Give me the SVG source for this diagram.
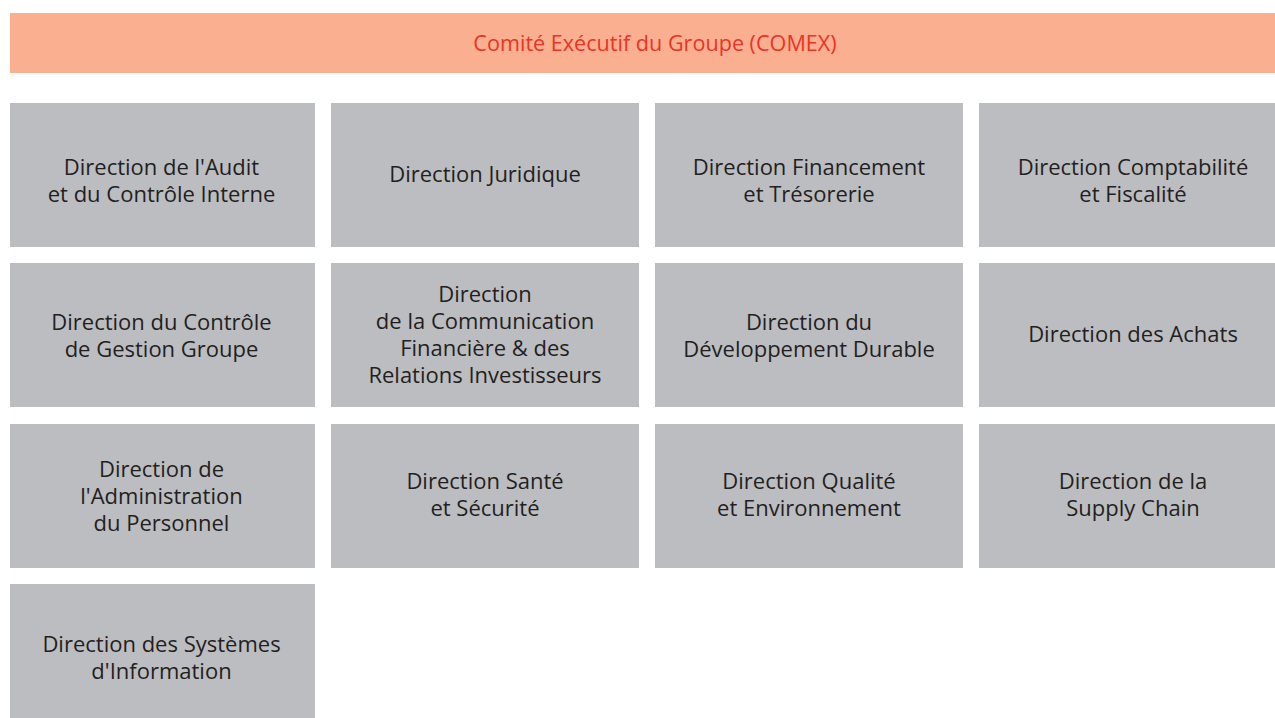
<svg xmlns="http://www.w3.org/2000/svg" width="1275" height="718" viewBox="0 0 1275 718">
<style>
.box{fill:#BCBDC1}
.t{font-family:"Open Sans","Liberation Sans",sans-serif;font-size:22px;font-weight:500;fill:#231F20;text-anchor:middle}
.h{font-family:"Open Sans","Liberation Sans",sans-serif;font-size:21.6px;font-weight:500;fill:#EC3326;text-anchor:middle}
</style>
<rect width="1275" height="718" fill="#FFFFFF"/>
<g id="comex">
<rect x="10" y="13" width="1265" height="60" fill="#F9AF90"/>
<text class="h" x="655" y="51">Comité Exécutif du Groupe (COMEX)</text>
</g>
<g id="connectors"></g>
<g id="audit"><rect class="box" x="10" y="103" width="305" height="144"/>
<text class="t" x="161.5" y="174.5">Direction de l'Audit</text><text class="t" x="161.5" y="201.5">et du Contrôle Interne</text></g>
<g id="juridique"><rect class="box" x="331" y="103" width="308" height="144"/>
<text class="t" x="485" y="181.5">Direction Juridique</text></g>
<g id="financement"><rect class="box" x="655" y="103" width="308" height="144"/>
<text class="t" x="809" y="174.5">Direction Financement</text><text class="t" x="809" y="201.5">et Trésorerie</text></g>
<g id="comptabilite"><rect class="box" x="979" y="103" width="296" height="144"/>
<text class="t" x="1133" y="174.5">Direction Comptabilité</text><text class="t" x="1133" y="201.5">et Fiscalité</text></g>
<g id="controle-gestion"><rect class="box" x="10" y="263" width="305" height="144"/>
<text class="t" x="161.5" y="329.5">Direction du Contrôle</text><text class="t" x="161.5" y="356.5">de Gestion Groupe</text></g>
<g id="communication"><rect class="box" x="331" y="263" width="308" height="144"/>
<text class="t" x="485" y="301.5">Direction</text><text class="t" x="485" y="328.5">de la Communication</text><text class="t" x="485" y="355.5">Financière &amp; des</text><text class="t" x="485" y="382.5">Relations Investisseurs</text></g>
<g id="developpement"><rect class="box" x="655" y="263" width="308" height="144"/>
<text class="t" x="809" y="329.5">Direction du</text><text class="t" x="809" y="356.5">Développement Durable</text></g>
<g id="achats"><rect class="box" x="979" y="263" width="296" height="144"/>
<text class="t" x="1133" y="341.5">Direction des Achats</text></g>
<g id="administration"><rect class="box" x="10" y="424" width="305" height="144"/>
<text class="t" x="161.5" y="476.5">Direction de</text><text class="t" x="161.5" y="503.5">l'Administration</text><text class="t" x="161.5" y="530.5">du Personnel</text></g>
<g id="sante"><rect class="box" x="331" y="424" width="308" height="144"/>
<text class="t" x="485" y="488.5">Direction Santé</text><text class="t" x="485" y="515.5">et Sécurité</text></g>
<g id="qualite"><rect class="box" x="655" y="424" width="308" height="144"/>
<text class="t" x="809" y="488.5">Direction Qualité</text><text class="t" x="809" y="515.5">et Environnement</text></g>
<g id="supply"><rect class="box" x="979" y="424" width="296" height="144"/>
<text class="t" x="1133" y="488.5">Direction de la</text><text class="t" x="1133" y="515.5">Supply Chain</text></g>
<g id="systemes"><rect class="box" x="10" y="584" width="305" height="134"/>
<text class="t" x="161.5" y="651.5">Direction des Systèmes</text><text class="t" x="161.5" y="678.5">d'Information</text></g>
</svg>
